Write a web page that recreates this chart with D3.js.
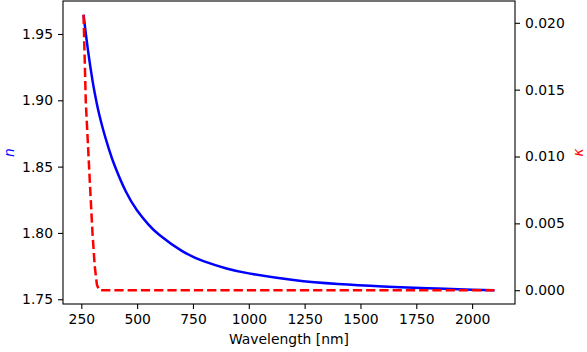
<!DOCTYPE html>
<html>
<head>
<meta charset="utf-8">
<script src="https://cdn.jsdelivr.net/npm/d3@7"></script>
<style>
  body { margin: 0; background: #fff; }
  svg text { font-family: "DejaVu Sans", sans-serif; }
</style>
</head>
<body>
<div id="chart"></div>
<script>
// values
const wavelengths = [260, 270, 280, 290, 300, 310, 320, 330, 350, 375, 400, 450, 500, 550, 600, 700, 800, 900, 1000, 1200, 1400, 1600, 1800, 2000, 2100];
const nValues     = [1.9645, 1.9505, 1.9375, 1.9258, 1.9150, 1.9055, 1.8970, 1.8895, 1.8765, 1.8625, 1.8505, 1.8310, 1.8170, 1.8065, 1.7985, 1.7865, 1.7785, 1.7732, 1.7695, 1.7645, 1.7615, 1.7597, 1.7583, 1.7572, 1.7568];
const kValues     = [0.0206, 0.0141, 0.0108, 0.0075, 0.0043, 0.0018, 0.0004, 0, 0, 0, 0, 0, 0, 0, 0, 0, 0, 0, 0, 0, 0, 0, 0, 0, 0];
const xTicks = [250, 500, 750, 1000, 1250, 1500, 1750, 2000];
const nTicks = [1.75, 1.80, 1.85, 1.90, 1.95];
const kTicks = [0, 0.005, 0.010, 0.015, 0.020];

const W = 587, H = 352;
const margin = {top: 1, right: 72, bottom: 48, left: 63};
const width = W - margin.left - margin.right,
      height = H - margin.top - margin.bottom;

const data = wavelengths.map((w, i) => ({w: w, n: nValues[i], k: kValues[i]}));

// matplotlib-like 5% padding
function padded(ext) {
  const p = (ext[1] - ext[0]) * 0.05;
  return [ext[0] - p, ext[1] + p];
}

const x = d3.scaleLinear().domain(padded(d3.extent(wavelengths))).range([0, width]);
const yN = d3.scaleLinear().domain(padded(d3.extent(nValues))).range([height, 0]);
const yK = d3.scaleLinear().domain(padded(d3.extent(kValues))).range([height, 0]);

const svg = d3.select("#chart").append("svg")
    .attr("width", W)
    .attr("height", H);

const g = svg.append("g")
    .attr("transform", `translate(${margin.left},${margin.top})`);

// lines
g.append("path")
    .datum(data)
    .attr("fill", "none")
    .attr("stroke", "#0000ff")
    .attr("stroke-width", 2.5)
    .attr("d", d3.line().x(d => x(d.w)).y(d => yN(d.n)).curve(d3.curveNatural));

g.append("path")
    .datum(data)
    .attr("fill", "none")
    .attr("stroke", "#ff0000")
    .attr("stroke-width", 2.5)
    .attr("stroke-dasharray", "9.25,4")
    .attr("d", d3.line().x(d => x(d.w)).y(d => yK(d.k)));

// frame
g.append("rect")
    .attr("width", width)
    .attr("height", height)
    .attr("fill", "none")
    .attr("stroke", "#000")
    .attr("stroke-width", 1.1);

function styleAxis(sel) {
  sel.select(".domain").remove();
  sel.selectAll(".tick line").attr("stroke", "#000").attr("stroke-width", 1.1);
  sel.selectAll(".tick text").attr("fill", "#000").style("font-size", "13.9px");
}

g.append("g")
    .attr("transform", `translate(0,${height})`)
    .call(d3.axisBottom(x).tickValues(xTicks).tickSize(5).tickPadding(5).tickFormat(d3.format("d")))
    .call(styleAxis);

g.append("g")
    .call(d3.axisLeft(yN).tickValues(nTicks).tickSize(5).tickPadding(5).tickFormat(d3.format(".2f")))
    .call(styleAxis);

g.append("g")
    .attr("transform", `translate(${width},0)`)
    .call(d3.axisRight(yK).tickValues(kTicks).tickSize(5).tickPadding(5).tickFormat(d3.format(".3f")))
    .call(styleAxis);

// labels
svg.append("text")
    .attr("x", margin.left + width / 2)
    .attr("y", 344)
    .attr("text-anchor", "middle")
    .style("font-size", "13.9px")
    .text("Wavelength [nm]");

svg.append("text")
    .attr("transform", `translate(14,${margin.top + height / 2}) rotate(-90)`)
    .attr("text-anchor", "middle")
    .attr("fill", "#0000ff")
    .style("font-size", "13.9px")
    .style("font-style", "italic")
    .text("n");

svg.append("text")
    .attr("transform", `translate(583,${margin.top + height / 2}) rotate(-90)`)
    .attr("text-anchor", "middle")
    .attr("fill", "#ff0000")
    .style("font-size", "13.9px")
    .style("font-style", "italic")
    .text("κ");
</script>
</body>
</html>
